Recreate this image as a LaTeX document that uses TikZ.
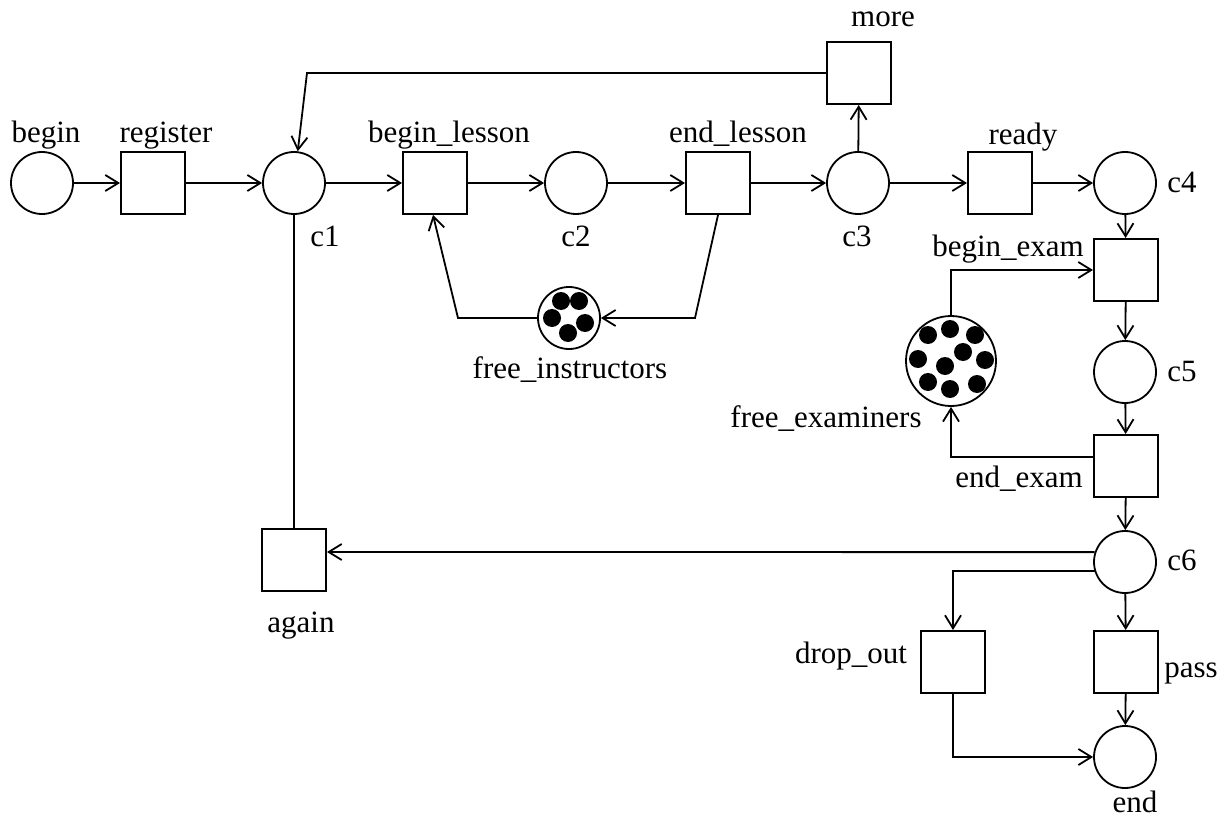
\documentclass[tikz,border=0pt]{standalone}
\usepackage{fontspec}
\setmainfont{Liberation Serif}
\usetikzlibrary{arrows.meta,calc}
\begin{document}
\begin{tikzpicture}[x=1pt,y=-1pt,
  place/.style={circle,draw,line width=1.8pt,minimum size=62pt,inner sep=0pt},
  trans/.style={rectangle,draw,line width=2pt,minimum width=64pt,minimum height=62pt,inner sep=0pt},
  lbl/.style={anchor=base,inner sep=0pt,font=\fontsize{31}{36}\selectfont},
  arc/.style={line width=1.8pt,-{Straight Barb[length=13pt,width=16pt,line width=1.8pt]}},
  plainarc/.style={line width=1.8pt},
  tokdot/.style={fill=black}
]
\useasboundingbox (0,0) rectangle (1226,821);

% places
\node[place] (begin) at (42,183) {};
\node[place] (c1) at (294,183) {};
\node[place] (c2) at (576,183) {};
\node[place] (c3) at (858,183) {};
\node[place] (c4) at (1125,183) {};
\node[place] (c5) at (1125,372) {};
\node[place] (c6) at (1125,562) {};
\node[place] (end) at (1125,757) {};
\node[place] (fi) at (569,318) {};
\node[place,minimum size=90pt] (fe) at (951,361) {};

% transitions
\node[trans] (register) at (153,183) {};
\node[trans] (blesson) at (435,183) {};
\node[trans] (elesson) at (718,183) {};
\node[trans] (more) at (859,73) {};
\node[trans] (ready) at (1000,183) {};
\node[trans] (bexam) at (1126,270) {};
\node[trans] (eexam) at (1126,466) {};
\node[trans] (again) at (294,560) {};
\node[trans] (dropout) at (953,662) {};
\node[trans] (pass) at (1126,662) {};

% tokens
\foreach \dx/\dy in {-8/-17, 10/-17, -17/0, 16/5, -1/15}
  \fill[tokdot] ($(fi)+(\dx,\dy)$) circle (9pt);
\foreach \dx/\dy in {-1/-32, -23/-26, 24/-26, 12/-9, -33/-2, 34/-1, -6/5, -23/21, -1/28, 26/23}
  \fill[tokdot] ($(fe)+(\dx,\dy)$) circle (9pt);

% labels
\node[lbl] (lbegin) at (46,143) {begin};
\node[lbl] (lregister) at (166,143) {register};
\node[lbl] (lblesson) at (449,143) {begin\_lesson};
\node[lbl] (lelesson) at (738,143) {end\_lesson};
\node[lbl] (lmore) at (883,27) {more};
\node[lbl] (lready) at (1023,145) {ready};
\node[lbl] (lc1) at (325,247) {c1};
\node[lbl] (lc2) at (576,247) {c2};
\node[lbl] (lc3) at (857,247) {c3};
\node[lbl] (lc4) at (1182,193) {c4};
\node[lbl] (lbexam) at (1008,256) {begin\_exam};
\node[lbl] (lfi) at (570,378) {free\_instructors};
\node[lbl] (lfe) at (826,427) {free\_examiners};
\node[lbl] (lc5) at (1182,381) {c5};
\node[lbl] (leexam) at (1019,487) {end\_exam};
\node[lbl] (lc6) at (1182,570) {c6};
\node[lbl] (lagain) at (301,632) {again};
\node[lbl] (ldropout) at (851,663) {drop\_out};
\node[lbl] (lpass) at (1191,677) {pass};
\node[lbl] (lend) at (1135,812) {end};

% corner points
\coordinate (kmore) at (307,73);
\coordinate (kel) at (695,318);
\coordinate (kbl) at (458,318);

% main row
\draw[arc] (begin) -- (register);
\draw[arc] (register) -- (c1);
\draw[arc] (c1) -- (blesson);
\draw[arc] (blesson) -- (c2);
\draw[arc] (c2) -- (elesson);
\draw[arc] (elesson) -- (c3);
\draw[arc] (c3) -- (ready);
\draw[arc] (ready) -- (c4);
\draw[arc] (c3) -- (more);
\draw[arc] (more.west) -- (kmore) -- (c1);
\draw[plainarc] (c1) -- (again);

% instructors loop
\draw[arc] (elesson.south) -- (kel) -- (fi);
\draw[arc] (fi) -- (kbl) -- ([xshift=-2pt]blesson.south);

% exam column
\draw[arc] (c4) -- (bexam);
\draw[arc] (bexam) -- (c5);
\draw[arc] (c5) -- (eexam);
\draw[arc] (eexam) -- (c6);
\draw[arc] (fe.north) |- (bexam.west);
\draw[arc] ([yshift=9pt]eexam.west) -| (fe.south);

% ending
\draw[arc] (c6.162) -- ([yshift=8pt]again.east);
\draw[arc] (c6.197) -| (dropout.north);
\draw[arc] (dropout.south) |- (end.west);
\draw[arc] (c6) -- (pass);
\draw[arc] (pass) -- (end);
\end{tikzpicture}
\end{document}
